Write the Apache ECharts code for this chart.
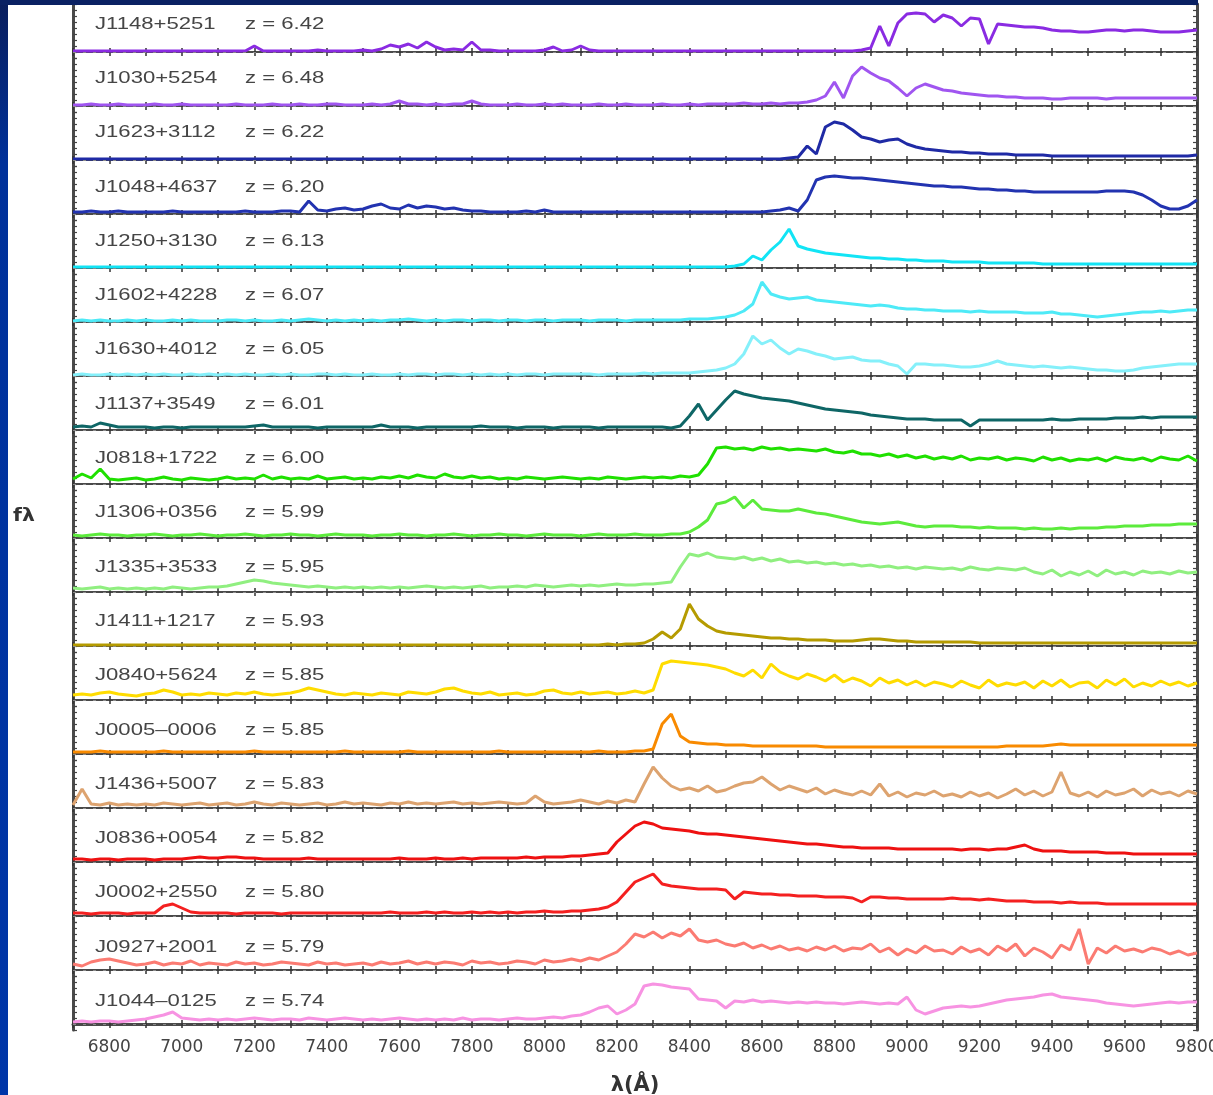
<!DOCTYPE html>
<html><head><meta charset="utf-8">
<script src="https://cdn.jsdelivr.net/npm/echarts@6/dist/echarts.min.js"></script>
<style>html,body{margin:0;padding:0;background:#fff}#c{width:1213px;height:1095px}</style>
</head><body><div id="c"></div>
<script>
// ---------- DATA ----------
const wavelengths = [
6700,6725,6750,6775,6800,6825,6850,6875,
6900,6925,6950,6975,7000,7025,7050,7075,
7100,7125,7150,7175,7200,7225,7250,7275,
7300,7325,7350,7375,7400,7425,7450,7475,
7500,7525,7550,7575,7600,7625,7650,7675,
7700,7725,7750,7775,7800,7825,7850,7875,
7900,7925,7950,7975,8000,8025,8050,8075,
8100,8125,8150,8175,8200,8225,8250,8275,
8300,8325,8350,8375,8400,8425,8450,8475,
8500,8525,8550,8575,8600,8625,8650,8675,
8700,8725,8750,8775,8800,8825,8850,8875,
8900,8925,8950,8975,9000,9025,9050,9075,
9100,9125,9150,9175,9200,9225,9250,9275,
9300,9325,9350,9375,9400,9425,9450,9475,
9500,9525,9550,9575,9600,9625,9650,9675,
9700,9725,9750,9775,9800];

const xTickLabels = [6800,7000,7200,7400,7600,7800,8000,8200,8400,8600,8800,9000,9200,9400,9600,9800];

const names = ['J1148+5251','J1030+5254','J1623+3112','J1048+4637','J1250+3130','J1602+4228','J1630+4012',
  'J1137+3549','J0818+1722','J1306+0356','J1335+3533','J1411+1217','J0840+5624','J0005\u20130006',
  'J1436+5007','J0836+0054','J0002+2550','J0927+2001','J1044\u20130125'];
const redshifts = ['6.42','6.48','6.22','6.20','6.13','6.07','6.05','6.01','6.00','5.99','5.95','5.93','5.85','5.85','5.83','5.82','5.80','5.79','5.74'];

const fJ1148 = [
1,1,1,1,1,1,1,1, 1,1,1,1,1,1,1,1, 1,1,1,1,6,1,1,1, 1,1,1,2,1,1,1,1,
2,1,3,7,5,8,4,10, 5,2,3,2,10,2,2,1, 1,1,1,1,2,5,1,2, 6,2,1,1,1,1,1,1,
1,1,1,1,1,1,1,1, 1,1,1,1,1,1,1,1, 1,1,1,1,1,1,1,2, 4,26,6,29,38,39,38,30,
37,34,26,34,33,8,28,27, 26,25,25,24,22,21,21,20, 20,21,22,22,21,22,22,21, 20,20,20,21,22];
const fJ1030 = [
1,1,2,1,1,2,1,1, 1,2,1,1,2,1,1,1, 1,1,2,1,1,1,2,1, 1,2,1,1,2,2,1,1,
1,2,1,2,5,2,2,1, 2,1,2,2,5,2,1,1, 1,2,1,1,2,1,2,1, 1,1,2,1,1,2,1,1,
1,2,1,1,2,1,2,2, 2,2,3,2,2,3,2,3, 3,4,6,10,24,8,30,39, 33,28,25,18,10,18,22,19,
16,15,13,12,11,10,10,9, 9,8,8,8,7,7,8,8, 8,8,7,8,8,8,8,8, 8,8,8,8,8];
const fJ1623 = [
1,1,1,1,1,1,1,1, 1,1,1,1,1,1,1,1, 1,1,1,1,1,1,1,1, 1,1,1,1,1,1,1,1,
1,1,1,1,1,1,1,1, 1,1,1,1,1,1,1,1, 1,1,1,1,1,1,1,1, 1,1,1,1,1,1,1,1,
1,1,1,1,1,1,1,1, 1,1,1,1,1,1,1,2, 3,14,6,33,38,36,30,23, 21,18,20,21,16,13,11,10,
9,8,8,7,7,6,6,6, 5,5,5,5,4,4,4,4, 4,4,4,4,4,4,4,4, 4,4,4,4,5];
const fJ1048 = [
2,2,3,2,2,3,2,2, 2,2,2,3,2,2,2,2, 2,2,2,3,2,2,2,3, 3,2,13,4,3,5,6,4,
5,8,10,6,5,9,6,8, 7,5,6,4,3,3,2,2, 2,2,3,2,4,2,2,2, 2,2,2,2,2,2,2,2,
2,2,2,2,2,2,2,2, 2,2,2,2,2,3,4,6, 3,14,34,37,38,37,36,36, 35,34,33,32,31,30,29,28,
28,27,27,26,25,25,24,24, 23,23,22,22,22,22,22,22, 22,22,23,23,23,22,19,14, 8,5,5,8,14];
const fJ1250 = [
1,1,1,1,1,1,1,1, 1,1,1,1,1,1,1,1, 1,1,1,1,1,1,1,1, 1,1,1,1,1,1,1,1,
1,1,1,1,1,1,1,1, 1,1,1,1,1,1,1,1, 1,1,1,1,1,1,1,1, 1,1,1,1,1,1,1,1,
1,1,1,1,1,1,1,1, 1,2,4,12,8,18,26,39, 22,19,17,15,14,13,12,11, 10,10,9,9,8,8,7,7,
7,6,6,6,6,5,5,5, 5,5,5,4,4,4,4,4, 4,4,4,4,4,4,4,4, 4,4,4,4,4];
const fJ1602 = [
1,2,1,2,1,1,2,1, 2,1,1,2,1,2,1,1, 1,2,2,1,2,1,1,2, 1,2,3,2,1,2,1,2,
1,2,1,2,2,3,2,1, 2,1,2,2,1,2,2,1, 2,2,1,2,2,1,2,2, 2,1,2,2,2,1,2,2,
2,2,2,2,3,3,3,4, 5,7,11,18,40,28,25,23, 24,25,22,21,20,19,18,17, 16,17,16,14,13,13,12,12,
11,11,11,10,11,10,10,10, 10,9,9,9,10,8,8,7, 6,5,6,7,8,9,10,10, 11,10,11,12,12];
const fJ1630 = [
1,2,1,1,2,1,2,1, 2,1,2,1,1,2,1,2, 1,2,1,2,1,1,2,1, 2,1,1,2,2,1,2,1,
1,2,1,1,2,1,2,2, 1,2,2,1,2,1,2,1, 2,1,2,2,1,2,2,2, 2,2,1,2,2,2,2,3,
2,3,3,3,3,4,5,6, 8,12,22,40,32,36,28,22, 27,25,22,20,17,18,19,16, 15,15,12,10,2,12,12,11,
11,10,9,9,10,12,15,12, 11,10,9,10,9,8,9,8, 7,6,6,5,5,6,8,9, 10,11,12,12,12];
const fJ1137 = [
3,4,3,7,5,3,3,3, 3,2,3,3,2,3,3,3, 3,3,3,3,4,5,3,3, 3,3,3,2,3,3,3,3,
3,3,5,3,3,3,2,3, 3,3,3,3,3,4,3,3, 3,2,3,3,3,2,3,3, 3,3,2,3,3,3,3,3,
3,3,2,4,14,26,10,20, 30,39,36,34,32,31,30,29, 27,25,23,21,20,19,18,17, 15,14,13,12,11,11,11,10,
10,10,10,4,10,10,10,10, 10,10,10,10,11,10,10,11, 11,11,11,12,12,12,13,12, 13,13,13,13,13];
const fJ0818 = [
5,10,6,15,5,4,5,6, 4,5,7,5,4,6,5,4, 5,7,5,6,5,9,5,7, 5,6,5,8,5,6,7,5,
6,5,7,6,8,6,9,7, 6,10,7,6,8,6,7,5, 6,5,7,6,5,6,7,6, 5,6,5,7,6,5,6,7,
6,7,6,8,7,9,20,36, 37,35,36,34,37,35,36,34, 35,34,33,35,32,31,33,30, 30,28,30,27,29,26,28,25,
27,25,28,24,26,25,27,24, 26,25,23,27,24,26,23,25, 24,26,23,27,25,24,26,23, 27,25,24,28,23];
const fJ1306 = [
3,2,3,4,3,3,2,3, 3,4,3,2,3,3,4,3, 2,3,3,4,3,2,3,3, 4,3,3,2,3,4,3,3,
3,2,3,3,4,3,3,2, 3,3,4,3,2,3,3,4, 3,3,2,3,4,3,3,3, 2,3,4,3,3,3,4,3,
3,3,4,4,6,11,18,34, 36,41,30,38,29,28,27,27, 29,27,25,24,22,20,18,16, 15,14,15,16,14,12,11,12,
12,12,11,11,10,11,10,10, 10,9,10,9,9,10,9,10, 10,10,11,11,12,12,12,13, 13,13,14,14,14];
const fJ1335 = [
4,3,4,5,3,4,3,4, 3,4,3,5,4,3,4,5, 5,6,8,10,12,11,9,8, 7,6,5,6,5,4,5,4,
5,4,5,4,5,4,5,6, 5,4,5,4,5,6,4,5, 5,6,5,7,6,5,6,7, 6,7,6,7,8,7,7,8,
8,9,10,25,38,36,39,35, 34,33,35,32,34,31,33,30, 31,29,30,28,29,27,28,26, 27,25,26,24,25,23,25,24,
23,24,22,25,23,22,24,23, 22,24,20,18,22,16,20,17, 21,16,22,18,20,17,21,19, 20,18,21,19,20];
const fJ1411 = [
1,1,1,1,1,1,1,1, 1,1,1,1,1,1,1,1, 1,1,1,1,1,1,1,1, 1,1,1,1,1,1,1,1,
1,1,1,1,1,1,1,1, 1,1,1,1,1,1,1,1, 1,1,1,1,1,1,1,1, 1,1,1,2,1,2,2,3,
7,14,8,17,42,27,20,15, 13,12,11,10,9,8,8,7, 7,6,6,6,5,5,5,6, 7,7,6,5,5,4,4,4,
4,4,4,4,3,3,3,3, 3,3,3,3,3,3,3,3, 3,3,3,3,3,3,3,3, 3,3,3,3,3];
const fJ0840 = [
5,6,5,7,8,6,5,4, 6,7,10,8,5,6,5,7, 6,5,7,6,8,6,5,6, 7,9,12,10,8,6,5,7,
6,5,7,6,5,8,7,6, 8,11,12,9,7,6,8,5, 6,7,5,6,9,10,7,6, 8,6,7,8,6,7,9,7,
10,36,39,38,37,36,35,33, 31,27,24,30,22,36,28,24, 21,26,23,19,25,18,22,19, 14,22,17,20,15,19,14,18,
16,13,19,15,12,20,14,17, 15,18,12,19,14,20,13,17, 18,12,20,15,21,13,17,14, 19,15,18,14,17];
const fJ0005 = [
2,2,2,3,2,2,2,2, 2,2,3,2,2,2,2,2, 2,2,2,2,3,2,2,2, 2,2,2,2,2,2,3,2,
2,2,2,2,2,3,2,2, 2,2,2,2,2,2,2,3, 2,2,2,2,2,2,2,2, 2,2,3,2,2,2,3,3,
5,30,40,18,12,11,10,10, 9,9,9,8,8,8,8,8, 8,8,8,7,7,7,7,7, 7,7,7,7,7,7,7,7,
7,7,7,7,7,7,7,8, 8,8,8,8,9,10,9,9, 9,9,9,9,9,9,9,9, 9,9,9,9,9];
const fJ1436 = [
3,19,4,3,5,3,4,3, 4,3,5,4,3,4,5,3, 4,5,3,4,6,4,3,5, 4,3,4,5,3,4,6,4,
5,4,3,5,4,6,4,5, 4,5,6,4,5,4,5,6, 5,4,5,12,6,4,5,6, 8,6,4,7,5,8,6,24,
41,30,22,18,20,17,22,16, 18,22,25,26,31,24,18,22, 19,16,20,14,18,15,13,17, 13,24,12,16,11,15,13,17,
12,14,11,16,12,15,10,14, 19,13,17,12,16,36,15,12, 16,11,17,13,15,19,12,18, 14,16,12,17,14];
const fJ0836 = [
3,3,2,3,3,2,3,3, 3,2,3,3,3,4,5,4, 4,5,5,4,4,3,3,3, 3,3,4,3,3,3,3,3,
3,3,3,3,4,3,3,3, 4,3,3,4,3,4,4,4, 4,4,5,4,5,5,5,6, 6,7,8,9,20,28,36,40,
38,34,33,32,31,29,28,28, 27,26,25,24,23,22,21,20, 19,18,18,17,16,15,15,14, 14,14,14,13,13,13,13,13,
13,13,12,13,13,12,13,13, 15,17,13,11,11,11,10,10, 10,10,9,9,9,8,8,8, 8,8,8,8,8];
const fJ0002 = [
3,3,2,3,3,3,2,3, 3,3,10,12,8,4,3,3, 3,3,2,3,3,3,3,2, 3,3,3,3,3,3,3,3,
3,3,3,4,3,3,3,4, 3,4,3,3,4,3,4,3, 4,3,4,4,5,4,4,5, 5,6,7,9,14,24,34,38,
42,32,30,29,28,27,27,27, 26,17,24,23,22,22,21,21, 20,20,20,19,19,19,18,14, 19,19,18,18,17,17,17,17,
17,18,17,17,16,17,16,15, 15,15,14,14,14,13,14,13, 13,13,12,12,12,12,12,12, 12,12,12,12,12];
const fJ0927 = [
6,4,8,10,11,9,7,5, 6,8,5,7,6,9,5,7, 6,5,8,6,7,5,6,8, 7,6,5,8,6,7,5,6,
7,5,8,6,7,9,6,8, 6,8,7,5,9,7,8,6, 7,9,8,6,10,8,9,11, 9,12,10,14,18,26,36,33,
38,32,37,34,41,30,28,30, 26,24,27,22,25,21,24,20, 22,19,23,20,24,19,22,21, 26,18,22,15,21,17,24,19,
20,16,23,18,21,15,24,19, 26,14,22,18,12,25,20,41, 6,22,17,24,19,21,18,22, 20,16,19,15,17];
const fJ1044 = [
2,3,2,3,3,2,3,4, 5,7,9,12,6,5,4,5, 4,5,4,5,6,5,4,5, 5,4,6,5,4,5,6,5,
4,5,4,5,6,5,4,5, 4,5,4,6,4,5,5,4, 5,6,5,5,6,7,6,8, 9,12,16,18,10,14,20,38,
40,39,37,36,35,25,24,23, 16,23,22,24,22,23,22,21, 22,21,22,21,21,20,21,22, 21,20,21,20,27,14,10,13,
16,17,18,17,18,20,22,24, 25,26,27,29,30,27,26,25, 24,23,21,20,19,18,19,20, 21,22,21,22,22];

const spectra = [fJ1148,fJ1030,fJ1623,fJ1048,fJ1250,fJ1602,fJ1630,fJ1137,fJ0818,fJ1306,
  fJ1335,fJ1411,fJ0840,fJ0005,fJ1436,fJ0836,fJ0002,fJ0927,fJ1044];

// ---------- STYLE ----------
const lineColors = ['#8a2be2','#a055f0','#1f2aa5','#2233b0','#12e4f5','#4eeaf7','#85f0fa','#0e6666',
  '#1fe000','#5ceb3c','#90ef80','#b59b00','#ffdc00','#f88a00','#dda36f','#ee1111','#f42020','#fb7b72','#f793e2'];

const PANEL_TOP = 4, PANEL_H = 54, LEFT = 73, RIGHT = 16;
const N = names.length;
const grid = [], xAxis = [], yAxis = [], series = [], graphic = [];
const axisColor = '#4a4a4a';

for (let i = 0; i < N; i++) {
  const top = PANEL_TOP + PANEL_H * i;
  grid.push({left: LEFT, right: RIGHT, top: top, height: PANEL_H, containLabel: false, outerBoundsMode: 'none'});
  const last = i === N - 1;
  const baseX = {
    gridIndex: i, type: 'value', min: 6700, max: 9800, interval: 100,
    splitLine: {show: false},
    axisLine: {lineStyle: {color: axisColor, width: last ? 3 : 2}},
    axisTick: {inside: true, length: 4, lineStyle: {color: '#333', width: 1.5}},
  };
  xAxis.push(Object.assign({}, baseX, {
    position: 'bottom',
    axisLabel: {show: last, formatter: v => xTickLabels.includes(v) ? String(v) : '',
      fontFamily: 'DejaVu Sans', fontSize: 17, color: '#444', margin: 9, showMaxLabel: true, hideOverlap: false},
    name: last ? '\u03bb(\u00c5)' : '', nameLocation: 'middle', nameGap: 45,
    nameTextStyle: {fontFamily: 'DejaVu Sans', fontSize: 21, fontWeight: 'bold', color: '#333'}
  }));
  xAxis.push(Object.assign({}, baseX, {position: 'top', axisLabel: {show: false},
    axisLine: {lineStyle: {color: axisColor, width: 1.5}}}));
  const baseY = {
    gridIndex: i, type: 'value', min: -6, max: 48, interval: 6,
    splitLine: {show: false}, axisLabel: {show: false},
    axisLine: {show: true, lineStyle: {color: axisColor, width: 3}},
    axisTick: {show: true, inside: true, length: 4, lineStyle: {color: '#444', width: 1.2}}
  };
  yAxis.push(Object.assign({}, baseY, {position: 'left'}));
  yAxis.push(Object.assign({}, baseY, {position: 'right'}));
  series.push({
    type: 'line', xAxisIndex: 2 * i, yAxisIndex: 2 * i, showSymbol: false, symbol: 'none',
    lineStyle: {color: lineColors[i], width: 3}, itemStyle: {color: lineColors[i]},
    data: wavelengths.map((w, k) => [w, spectra[i][k]]),
    markLine: {silent: true, symbol: 'none', label: {show: false},
      lineStyle: {type: [3, 7], color: '#8a8a8a', width: 1.2}, data: [{yAxis: 0}]},
    z: 3
  });
  const ty = top + 20 + 0.3 * i;
  graphic.push({type: 'text', x: 95, y: ty, scaleX: 1.3, z: 10,
    style: {text: names[i], fill: '#454545', font: '17px "Liberation Sans", Arial, sans-serif', verticalAlign: 'middle'}});
  graphic.push({type: 'text', x: 245, y: ty, scaleX: 1.3, z: 10,
    style: {text: 'z = ' + redshifts[i], fill: '#454545', font: '17px "Liberation Sans", Arial, sans-serif', verticalAlign: 'middle'}});
}
graphic.push({type: 'text', x: 13, y: 517, z: 10, scaleX: 1.2,
  style: {text: 'f\u03bb', fill: '#333', font: 'bold 17px "DejaVu Sans", sans-serif', verticalAlign: 'middle'}});
graphic.push({type: 'rect', z: 100, shape: {x: 0, y: 0, width: 8, height: 1095},
  style: {fill: new echarts.graphic.LinearGradient(0, 0, 0, 1, [
    {offset: 0, color: '#0a1e5c'}, {offset: 0.15, color: '#00319a'}, {offset: 1, color: '#0036a8'}])}});
graphic.push({type: 'rect', z: 100, shape: {x: 0, y: 0, width: 1198, height: 5}, style: {fill: '#0a2163'}});

const chart = echarts.init(document.getElementById('c'), null, {renderer: 'canvas'});
chart.setOption({backgroundColor: '#ffffff', animation: false, grid, xAxis, yAxis, series, graphic});
</script></body></html>
